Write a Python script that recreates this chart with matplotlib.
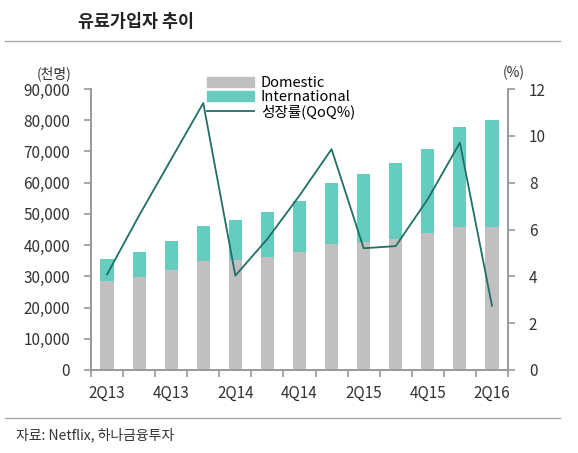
import matplotlib
matplotlib.use("Agg")
import matplotlib.pyplot as plt
from matplotlib.patches import Patch
from matplotlib.lines import Line2D
from matplotlib.ticker import FuncFormatter

plt.rcParams["font.family"] = ["Noto Sans CJK KR", "DejaVu Sans"]

QUARTERS = ["2Q13", "3Q13", "4Q13", "1Q14", "2Q14", "3Q14", "4Q14",
            "1Q15", "2Q15", "3Q15", "4Q15", "1Q16", "2Q16"]
# subscribers, thousands
DOMESTIC = [28600, 29800, 32000, 34800, 35200, 36200, 37900,
            40500, 41000, 42100, 43800, 45800, 45800]
TOTAL = [35500, 37900, 41400, 46200, 47900, 50500, 54100,
         59800, 62900, 66200, 70900, 77900, 80000]
INTERNATIONAL = [t - d for t, d in zip(TOTAL, DOMESTIC)]
# growth rate QoQ (%)
GROWTH = [4.08, 6.6, 9.0, 11.4, 4.03, 5.6, 7.45,
          9.43, 5.2, 5.29, 7.3, 9.71, 2.75]

GRAY = "#c0c0c0"
TEAL = "#66cdbe"
LINE = "#1f6f66"
SPINE = "#999999"
TXT = "#333333"

fig = plt.figure(figsize=(5.78, 4.53), dpi=100)
ax = fig.add_axes([91 / 578, 1 - 370 / 453, 417 / 578, 281 / 453])
ax2 = ax.twinx()

x = list(range(len(QUARTERS)))
ax.bar(x, DOMESTIC, width=0.41, color=GRAY, zorder=2)
ax.bar(x, INTERNATIONAL, width=0.41, bottom=DOMESTIC, color=TEAL, zorder=2)
ax2.plot(x, GROWTH, color=LINE, linewidth=1.3, zorder=3)

ax.set_xlim(-0.5, len(QUARTERS) - 0.5)
ax.set_ylim(0, 90000)
ax.set_yticks(range(0, 90001, 10000))
ax.yaxis.set_major_formatter(FuncFormatter(lambda v, p: f"{int(v):,}"))
ax2.set_ylim(0, 12)
ax2.set_yticks(range(0, 13, 2))

# tick marks at category boundaries, labels under every other bar
ax.set_xticks([i - 0.5 for i in range(len(QUARTERS) + 1)])
ax.set_xticklabels([])
ax.set_xticks(x[::2], minor=True)
ax.set_xticklabels(QUARTERS[::2], minor=True)
ax.tick_params(axis="x", which="minor", length=0, pad=11, labelsize=11, labelcolor=TXT)
ax.tick_params(axis="x", which="major", length=5, width=1.2, color=SPINE)
ax.tick_params(axis="y", length=5, width=1.2, color=SPINE, labelsize=11, labelcolor=TXT, pad=10)
ax2.tick_params(axis="y", length=5, width=1.2, color=SPINE, labelsize=11, labelcolor=TXT, pad=10)

for a in (ax, ax2):
    a.spines["top"].set_visible(False)
    for s in ("left", "right", "bottom"):
        a.spines[s].set_color(SPINE)
        a.spines[s].set_linewidth(1.2)

handles = [Patch(color=GRAY), Patch(color=TEAL), Line2D([], [], color=LINE, linewidth=1.3)]
labels = ["Domestic", "International", "성장률(QoQ%)"]
ax2.legend(handles, labels, loc="upper left", bbox_to_anchor=(207 / 578, 1 - 76 / 453),
           bbox_transform=fig.transFigure, frameon=False, fontsize=10.5,
           handlelength=3.2, handleheight=0.7, handletextpad=0.5,
           labelspacing=0.02, borderpad=0, borderaxespad=0)

fig.text(54 / 578, 1 - 74 / 453, "(천명)", ha="center", va="center", fontsize=10, color=TXT)
fig.text(514 / 578, 1 - 73 / 453, "(%)", ha="center", va="center", fontsize=10, color=TXT)

fig.text(78 / 578, 1 - 22 / 453, "유료가입자 추이", ha="left", va="center",
         fontsize=12.5, fontweight="bold", color="#222222")
fig.add_artist(Line2D([5 / 578, 560 / 578], [1 - 41 / 453, 1 - 41 / 453],
                      color="#aaaaaa", linewidth=1))
fig.add_artist(Line2D([5 / 578, 560 / 578], [1 - 418 / 453, 1 - 418 / 453],
                      color="#aaaaaa", linewidth=1))
fig.text(16 / 578, 1 - 435 / 453, "자료: Netflix, 하나금융투자", ha="left", va="center",
         fontsize=10, color=TXT)

fig.savefig("out.png", dpi=100)
